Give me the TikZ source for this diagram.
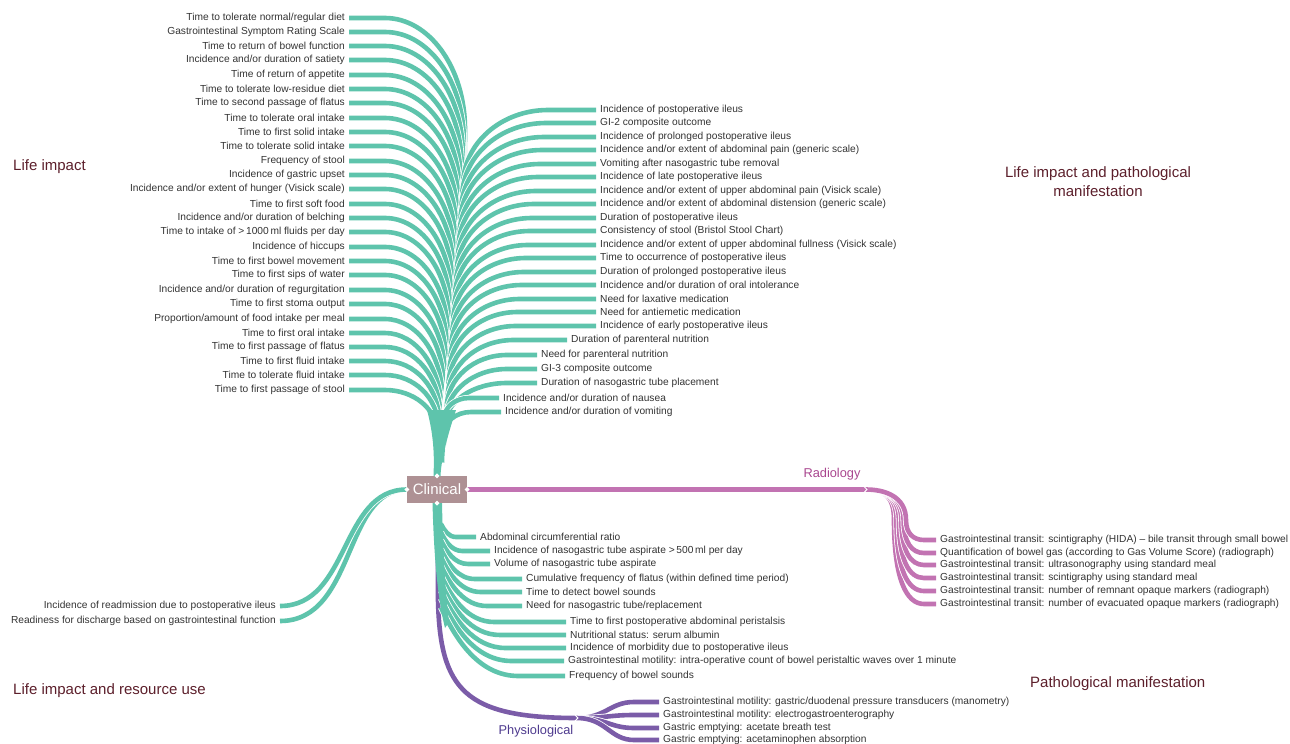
\documentclass[tikz,border=0pt]{standalone}
\usepackage{fontspec}
\setmainfont{Liberation Sans}
\definecolor{lifec}{HTML}{5EC4AC}
\definecolor{radioc}{HTML}{C273B2}
\definecolor{physc}{HTML}{7B5CA8}
\definecolor{radiotxt}{HTML}{A9468F}
\definecolor{phystxt}{HTML}{4E3A8E}
\definecolor{titlec}{HTML}{5C1F2B}
\definecolor{labc}{HTML}{333333}
\definecolor{clinc}{HTML}{AE9194}
\begin{document}
\begin{tikzpicture}[x=1pt,y=-1pt,
  lbl/.style={font=\fontsize{10.2}{12}\selectfont,text=labc,inner xsep=4pt,inner ysep=0pt},
  title/.style={font=\fontsize{15}{19}\selectfont,text=titlec,inner sep=0pt},
  life/.style={draw=lifec,line width=4.6pt,preaction={draw=white,line width=6.2pt}},
  radio/.style={draw=radioc,line width=4.6pt,preaction={draw=white,line width=6.2pt}},
  physio/.style={draw=physc,line width=4.6pt,preaction={draw=white,line width=6.2pt}},
  clinbox/.style={fill=clinc,text=white,minimum width=60pt,minimum height=27pt,inner sep=0pt,font=\fontsize{15}{18}\selectfont}]
\useasboundingbox (0,0) rectangle (1290,744);

% corner titles
\node[title,anchor=west] (tli) at (13,167) {Life impact};
\node[title,align=center] (tlp) at (1098,182) {Life impact and pathological\\manifestation};
\node[title,anchor=west] (tlr) at (13,691) {Life impact and resource use};
\node[title,anchor=west] (tpm) at (1030,684) {Pathological manifestation};

\node[clinbox] (clin) at (437,489.5) {Clinical};
\coordinate (tl) at (438,462);
\coordinate (tr) at (442,462);
\coordinate (rj) at (866,489.5);
\coordinate (pj) at (577,718);

% purple under the teal stem
\draw[physio] ([xshift=1pt]clin.south) -- (438,600) .. controls (440,690) and (465,718) .. (pj);
\node[font=\fontsize{12.8}{15}\selectfont,text=phystxt] (phy) at (536,731) {Physiological};
\foreach \y/\txt [count=\i] in {701/{Gastrointestinal motility: gastric/duodenal pressure transducers (manometry)},
  714/{Gastrointestinal motility: electrogastroenterography},
  727/{Gastric emptying: acetate breath test},
  739/{Gastric emptying: acetaminophen absorption}}{
  \node[lbl,anchor=west] (P\i) at (659,\y+1) {\txt};
  \draw[physio] (pj) .. controls (606,718) and (610,\y+1) .. (634,\y+1) -- (P\i.west);
}

% radiology
\draw[radio] (clin.east) -- (rj);
\node[font=\fontsize{12.8}{15}\selectfont,text=radiotxt] (rad) at (832,474) {Radiology};
\foreach \y/\txt [count=\i] in {603/{Gastrointestinal transit: number of evacuated opaque markers (radiograph)},
  590/{Gastrointestinal transit: number of remnant opaque markers (radiograph)},
  577/{Gastrointestinal transit: scintigraphy using standard meal},
  564/{Gastrointestinal transit: ultrasonography using standard meal},
  552/{Quantification of bowel gas (according to Gas Volume Score) (radiograph)},
  539/{Gastrointestinal transit: scintigraphy (HIDA) -- bile transit through small bowel}}{
  \node[lbl,anchor=west] (G\i) at (936,\y+1) {\txt};
  \pgfmathsetmacro\xv{906-12*(\y-539)/64}
  \pgfmathsetmacro\cy{\y-0.3*(\y-520)}
  \pgfmathsetmacro\cx{\xv+0.4*(924-\xv)}
  \draw[radio] (rj) .. controls (884,489.5) and (\xv,496) .. (\xv,520)
    .. controls (\xv,\cy) and (\cx,\y+1) .. (924,\y+1) -- (G\i.west);
}

% resource use
\node[lbl,anchor=east] (D1) at (280,606) {Incidence of readmission due to postoperative ileus};
\node[lbl,anchor=east] (D2) at (280,621) {Readiness for discharge based on gastrointestinal function};
\draw[life] (clin.west) .. controls (343,489.5) and (356,621) .. (D2.east);
\draw[life] (clin.west) .. controls (340,489.5) and (350,606) .. (D1.east);

% life impact, left fan
\foreach \y/\txt [count=\i] in {17/{Time to tolerate normal/regular diet},
  31/{Gastrointestinal Symptom Rating Scale},
  45/{Time to return of bowel function},
  59/{Incidence and/or duration of satiety},
  74/{Time of return of appetite},
  88/{Time to tolerate low-residue diet},
  102/{Time to second passage of flatus},
  117/{Time to tolerate oral intake},
  131/{Time to first solid intake},
  145/{Time to tolerate solid intake},
  160/{Frequency of stool},
  174/{Incidence of gastric upset},
  188/{Incidence and/or extent of hunger (Visick scale)},
  203/{Time to first soft food},
  217/{Incidence and/or duration of belching},
  231/{Time to intake of >\,1000\,ml fluids per day},
  246/{Incidence of hiccups},
  260/{Time to first bowel movement},
  274/{Time to first sips of water},
  289/{Incidence and/or duration of regurgitation},
  303/{Time to first stoma output},
  318/{Proportion/amount of food intake per meal},
  332/{Time to first oral intake},
  346/{Time to first passage of flatus},
  360/{Time to first fluid intake},
  374/{Time to tolerate fluid intake},
  389/{Time to first passage of stool}}{
  \node[lbl,anchor=east] (L\i) at (349,\y+1) {\txt};
  \pgfmathsetmacro\xv{437+28*(27-\i)/26}
  \pgfmathsetmacro\rh{\xv-385}
  \pgfmathsetmacro\rv{min(1.4*\rh,0.6*(462-\y))}
  \pgfmathsetmacro\ye{\y+\rv}
  \pgfmathsetmacro\cxa{385+0.55*\rh}
  \pgfmathsetmacro\cya{\ye-0.55*\rv}
  \pgfmathsetmacro\cyb{\ye+0.5*(462-\ye)}
  \pgfmathsetmacro\cyc{462-0.3*(462-\ye)}
  \draw[life] (L\i.east) -- (385,\y+1) .. controls (\cxa,\y+1) and (\xv,\cya) .. (\xv,\ye)
    .. controls (\xv,\cyb) and (438,\cyc) .. (tl);
}

% life impact and pathological manifestation, right fan
\foreach \x/\y/\txt [count=\i] in {600/109/{Incidence of postoperative ileus},
  600/122/{GI-2 composite outcome},
  600/136/{Incidence of prolonged postoperative ileus},
  600/149/{Incidence and/or extent of abdominal pain (generic scale)},
  600/163/{Vomiting after nasogastric tube removal},
  600/176/{Incidence of late postoperative ileus},
  600/190/{Incidence and/or extent of upper abdominal pain (Visick scale)},
  600/203/{Incidence and/or extent of abdominal distension (generic scale)},
  600/217/{Duration of postoperative ileus},
  600/230/{Consistency of stool (Bristol Stool Chart)},
  600/244/{Incidence and/or extent of upper abdominal fullness (Visick scale)},
  600/257/{Time to occurrence of postoperative ileus},
  600/271/{Duration of prolonged postoperative ileus},
  600/284/{Incidence and/or duration of oral intolerance},
  600/298/{Need for laxative medication},
  600/311/{Need for antiemetic medication},
  600/325/{Incidence of early postoperative ileus},
  571/339/{Duration of parenteral nutrition},
  541/354/{Need for parenteral nutrition},
  541/368/{GI-3 composite outcome},
  541/382/{Duration of nasogastric tube placement},
  503/397/{Incidence and/or duration of nausea},
  505/411/{Incidence and/or duration of vomiting}}{
  \node[lbl,anchor=west] (R\i) at (\x-4,\y+1) {\txt};
  \pgfmathsetmacro\xv{443+20*(23-\i)/22}
  \pgfmathsetmacro\xs{min(548-0.15*(\y-109),\x-34)}
  \pgfmathsetmacro\rh{\xs-\xv}
  \pgfmathsetmacro\rv{min(0.9*\rh,0.55*(462-\y))}
  \pgfmathsetmacro\ye{\y+\rv}
  \pgfmathsetmacro\cxa{\xs-0.55*\rh}
  \pgfmathsetmacro\cya{\ye-0.55*\rv}
  \pgfmathsetmacro\cyb{\ye+0.5*(462-\ye)}
  \pgfmathsetmacro\cyc{462-0.3*(462-\ye)}
  \draw[life] (R\i.west) -- (\xs,\y+1) .. controls (\cxa,\y+1) and (\xv,\cya) .. (\xv,\ye)
    .. controls (\xv,\cyb) and (442,\cyc) .. (tr);
}
\fill[lifec] (427,410) .. controls (435,440) and (434,462) .. (433.5,476)
  -- (440.5,476) .. controls (441,462) and (446,440) .. (456,410) -- cycle;

% pathological manifestation, lower fan
\foreach \x/\y/\txt [count=\i] in {480/536/{Abdominal circumferential ratio},
  494/550/{Incidence of nasogastric tube aspirate >\,500\,ml per day},
  494/563/{Volume of nasogastric tube aspirate},
  526/578/{Cumulative frequency of flatus (within defined time period)},
  526/591/{Time to detect bowel sounds},
  526/605/{Need for nasogastric tube/replacement},
  570/621/{Time to first postoperative abdominal peristalsis},
  570/634/{Nutritional status: serum albumin},
  570/647/{Incidence of morbidity due to postoperative ileus},
  568/660/{Gastrointestinal motility: intra-operative count of bowel peristaltic waves over 1 minute},
  569/675/{Frequency of bowel sounds}}{
  \node[lbl,anchor=west] (B\i) at (\x-4,\y+1) {\txt};
  \pgfmathsetmacro\h{12+0.4*(\y-536)}
  \pgfmathsetmacro\xh{456+0.45*(\y-536)}
  \coordinate (b\i) at (441,\y-\h);
  \draw[life] (b\i) .. controls (441+0.2*\xh-88.2,\y-0.5*\h) and (0.5*\xh+220.5,\y+1) .. (\xh,\y+1) -- (B\i.west);
}
\fill[lifec] (432.5,503) .. controls (434,560) and (438,600) .. (445,628)
  -- (449,622) .. controls (445,590) and (443,550) .. (442,503) -- cycle;

% notches
\foreach \a in {north,south,east,west}
  \fill[white] (clin.\a) +(-2.5,0) -- +(0,-2.5) -- +(2.5,0) -- +(0,2.5) -- cycle;
\draw[white,line width=0.8pt] (rj) +(-2,-3) -- +(1,0) -- +(-2,3);
\draw[white,line width=0.8pt] (pj) +(-2,-3) -- +(1,0) -- +(-2,3);
\end{tikzpicture}
\end{document}
